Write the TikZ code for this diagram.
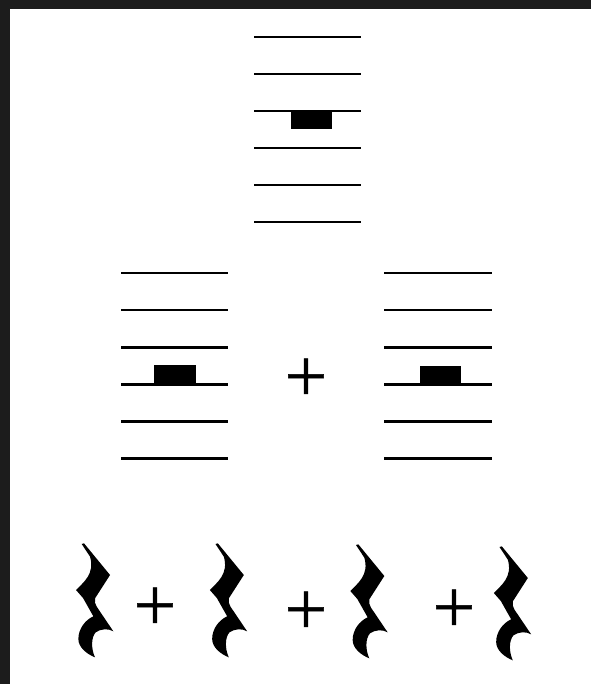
\documentclass[tikz,border=0pt]{standalone}
\usepackage{fontspec}
\newfontfamily\plusfont[FakeBold=0.6]{Liberation Serif}
\definecolor{framedark}{RGB}{28,28,28}
\begin{document}
\begin{tikzpicture}[x=0.02cm,y=-0.02cm,
  staffline/.style={line width=1.7pt, black},
  restblock/.style={fill=black},
  plussign/.style={inner sep=0pt, font=\plusfont\fontsize{43}{43}\selectfont},
  qrest/.pic={
    \fill[black,scale=1/3] (0,0) -- (7,-2) -- (85,93) -- (40,163)
      .. controls (38,172) and (40,180) .. (45,188) -- (95,262)
      .. controls (80,252) and (55,255) .. (42,265)
      .. controls (28,280) and (28,315) .. (40,340)
      .. controls (15,330) and (-10,310) .. (-10,285)
      .. controls (-10,255) and (10,228) .. (35,217)
      -- (4,162) -- (-17,138)
      .. controls (5,115) and (40,90) .. (25,38) -- cycle;
  }
]
\useasboundingbox (0,0) rectangle (591,684);
\fill[framedark] (0,0) rectangle (591,684);
\fill[white] (10,9) rectangle (591,684);

% top staff with whole rest
\foreach \y in {37,74,111,148,185,222}
  \draw[staffline] (254,\y) -- (361,\y);
\fill[restblock] (291,111) rectangle (332,129);

% left staff with half rest
\foreach \y in {273,310,347,384,421,458}
  \draw[staffline] (121,\y) -- (228,\y);
\fill[restblock] (154,365) rectangle (196,384);

% right staff with half rest
\foreach \y in {273,310,347,384,421,458}
  \draw[staffline] (384,\y) -- (492,\y);
\fill[restblock] (420,366) rectangle (461,384);

\node[plussign] (pmid) at (306,380) {+};

% quarter rests
\pic at (81.7,544) {qrest};
\pic at (215.5,544) {qrest};
\pic at (356,545) {qrest};
\pic at (499.5,547) {qrest};

\node[plussign] (p1) at (155,609) {+};
\node[plussign] (p2) at (306,613) {+};
\node[plussign] (p3) at (454,611) {+};
\end{tikzpicture}
\end{document}
